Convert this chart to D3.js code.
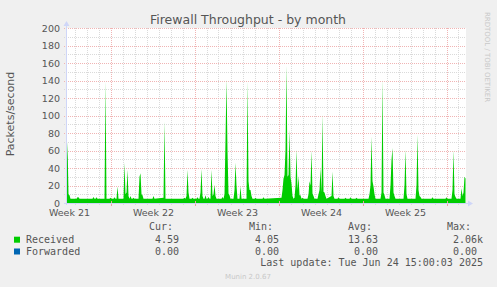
<!DOCTYPE html>
<html>
<head>
<meta charset="utf-8">
<script src="https://cdn.jsdelivr.net/npm/d3@7"></script>
<style>
  body { margin: 0; background: #f0f0f0; }
  svg { display: block; font-family: "DejaVu Sans", sans-serif; }
  .mono { font-family: "DejaVu Sans Mono", monospace; font-size: 10px; fill: #555; white-space: pre; }
</style>
</head>
<body>
<script>

var width = 497,
    height = 287;

// plot box (munin: 400px wide, 175px high)
var plotL = 66, plotR = 466, plotT = 28, plotB = 203;

var timeStart = "2025-05-22 07",
    timeEnd = "2025-06-24 15";

// Received packets/second, 2h samples ("MM-DD HH", value)
var received = [
  ["05-22 07", 30], ["05-22 09", 70], ["05-22 11", 10], ["05-22 13", 9], ["05-22 15", 5],
  ["05-23 03", 5], ["05-23 05", 6.5], ["05-23 07", 6.5], ["05-23 09", 5],
  ["05-24 11", 5], ["05-24 13", 7], ["05-24 15", 5], ["05-24 17", 5], ["05-24 19", 6.5], ["05-24 21", 5],
  ["05-25 11", 5], ["05-25 13", 139], ["05-25 15", 5], ["05-25 21", 5], ["05-25 23", 6],
  ["05-26 01", 5], ["05-26 05", 5], ["05-26 07", 6.5], ["05-26 09", 5], ["05-26 11", 5], ["05-26 13", 19], ["05-26 15", 5],
  ["05-27 01", 5], ["05-27 03", 46], ["05-27 05", 10], ["05-27 07", 12], ["05-27 09", 38], ["05-27 11", 8],
  ["05-27 13", 5], ["05-27 15", 8], ["05-27 17", 5], ["05-27 19", 5], ["05-27 21", 6], ["05-27 23", 5],
  ["05-28 07", 5], ["05-28 09", 30], ["05-28 11", 34], ["05-28 13", 10], ["05-28 15", 9], ["05-28 17", 5],
  ["05-29 11", 5], ["05-29 13", 8], ["05-29 15", 5],
  ["05-30 09", 6], ["05-30 11", 93], ["05-30 13", 5],
  ["06-01 01", 5], ["06-01 03", 6], ["06-01 05", 5], ["06-01 07", 8], ["06-01 09", 38], ["06-01 11", 12],
  ["06-01 13", 5], ["06-01 17", 5], ["06-01 19", 6], ["06-01 21", 5],
  ["06-02 03", 5], ["06-02 05", 6.5], ["06-02 07", 5], ["06-02 09", 5], ["06-02 11", 12], ["06-02 13", 39],
  ["06-02 15", 8], ["06-02 17", 5], ["06-02 19", 5], ["06-02 21", 9], ["06-02 23", 5],
  ["06-03 01", 5], ["06-03 03", 7], ["06-03 05", 5], ["06-03 07", 5], ["06-03 09", 38], ["06-03 11", 8],
  ["06-03 13", 10], ["06-03 15", 21], ["06-03 17", 8], ["06-03 19", 5],
  ["06-04 05", 5], ["06-04 07", 7], ["06-04 09", 5], ["06-04 11", 10], ["06-04 13", 72], ["06-04 15", 141],
  ["06-04 17", 60], ["06-04 19", 11], ["06-04 21", 9], ["06-04 23", 5],
  ["06-05 05", 5], ["06-05 07", 15], ["06-05 09", 46], ["06-05 11", 20], ["06-05 13", 5],
  ["06-05 17", 5], ["06-05 19", 19], ["06-05 21", 5],
  ["06-06 07", 5], ["06-06 09", 139], ["06-06 11", 25], ["06-06 13", 15], ["06-06 15", 15], ["06-06 17", 8], ["06-06 19", 5],
  ["06-06 23", 5], ["06-07 01", 6], ["06-07 03", 5],
  ["06-07 15", 5], ["06-07 17", 6.5], ["06-07 19", 5],
  ["06-09 05", 6], ["06-09 07", 15], ["06-09 09", 28], ["06-09 11", 32], ["06-09 13", 60], ["06-09 15", 157],
  ["06-09 17", 30], ["06-09 19", 32], ["06-09 21", 84], ["06-09 23", 30],
  ["06-10 01", 22], ["06-10 03", 8], ["06-10 05", 5], ["06-10 07", 6], ["06-10 09", 20], ["06-10 11", 61],
  ["06-10 13", 15], ["06-10 15", 31], ["06-10 17", 9], ["06-10 19", 9], ["06-10 21", 5], ["06-10 23", 6],
  ["06-11 01", 5], ["06-11 09", 5], ["06-11 11", 10], ["06-11 13", 25], ["06-11 15", 20], ["06-11 17", 60],
  ["06-11 19", 11], ["06-11 21", 8], ["06-11 23", 5],
  ["06-12 05", 5], ["06-12 07", 10], ["06-12 09", 15], ["06-12 11", 40], ["06-12 13", 12], ["06-12 15", 101],
  ["06-12 17", 13], ["06-12 19", 12], ["06-12 21", 8], ["06-12 23", 5],
  ["06-13 09", 8], ["06-13 11", 36], ["06-13 13", 8], ["06-13 15", 5], ["06-13 21", 5], ["06-13 23", 6.5],
  ["06-14 01", 5], ["06-14 11", 5], ["06-14 13", 6], ["06-14 15", 5], ["06-14 21", 5], ["06-14 23", 6.5],
  ["06-15 01", 5], ["06-15 09", 5], ["06-15 11", 6], ["06-15 13", 5],
  ["06-16 11", 5], ["06-16 13", 10], ["06-16 15", 20], ["06-16 17", 76], ["06-16 19", 25], ["06-16 21", 19], ["06-16 23", 10],
  ["06-17 01", 5], ["06-17 11", 5], ["06-17 13", 12], ["06-17 15", 141], ["06-17 17", 12], ["06-17 19", 9], ["06-17 21", 5],
  ["06-18 05", 5], ["06-18 07", 20], ["06-18 09", 49], ["06-18 11", 63], ["06-18 13", 12], ["06-18 15", 8], ["06-18 17", 5],
  ["06-19 09", 5], ["06-19 11", 20], ["06-19 13", 61], ["06-19 15", 10], ["06-19 17", 5],
  ["06-20 09", 5], ["06-20 11", 20], ["06-20 13", 78], ["06-20 15", 15], ["06-20 17", 8], ["06-20 19", 7], ["06-20 21", 5],
  ["06-21 17", 5], ["06-21 19", 6.5], ["06-21 21", 5],
  ["06-22 21", 5], ["06-22 23", 6.5], ["06-23 01", 5],
  ["06-23 09", 5], ["06-23 11", 15], ["06-23 13", 60], ["06-23 15", 10], ["06-23 17", 7], ["06-23 19", 5],
  ["06-24 03", 5], ["06-24 05", 17], ["06-24 07", 8], ["06-24 09", 12], ["06-24 11", 30], ["06-24 13", 28]
];

var yTicks = [0, 20, 40, 60, 80, 100, 120, 140, 160, 180, 200];
var yMinor = [10, 30, 50, 70, 90, 110, 130, 150, 170, 190];

var weekLabels = ["Week 21", "Week 22", "Week 23", "Week 24", "Week 25"];
var weekMids = ["05-22 12", "05-29 12", "06-05 12", "06-12 12", "06-19 12"];

var legendNames = ["Received", "Forwarded"];
var legendColors = ["#00cc00", "#0066b3"];
var curVals = ["4.59", "0.00"];
var minVals = ["4.05", "0.00"];
var avgVals = ["13.63", "0.00"];
var maxVals = ["2.06k", "0.00 "];

var parse = d3.utcParse("%Y-%m-%d %H");
function t(s) { return parse(s.length > 8 ? s : "2025-" + s); }

// samples sit on pixel centres, like rrdtool
var x = d3.scaleUtc()
    .domain([t(timeStart), t(timeEnd)])
    .range([plotL + 0.5, plotR + 0.5]);

var y = d3.scaleLinear()
    .domain([0, 200])
    .range([plotB, plotT]);

var svg = d3.select("body").append("svg")
    .attr("width", width)
    .attr("height", height);

svg.append("rect")
    .attr("width", width).attr("height", height)
    .attr("fill", "#f0f0f0");

svg.append("rect")
    .attr("x", plotL).attr("y", plotT)
    .attr("width", plotR - plotL).attr("height", plotB - plotT)
    .attr("fill", "#ffffff");

function px(v) { return Math.floor(v) + 0.5; }
function py(v) { return Math.round(v) + 0.5; }

var days = d3.utcDay.range(t(timeStart), t(timeEnd));
var mondays = d3.utcMonday.range(t(timeStart), t(timeEnd));

var minorColor = "#dadada",
    majorColor = "#f0b4b4";

var grid = svg.append("g")
    .attr("stroke-width", 1)
    .attr("stroke-dasharray", "1,1")
    .attr("fill", "none");

grid.selectAll(".hmin")
    .data(yMinor)
  .enter().append("line")
    .attr("x1", plotL - 2).attr("x2", plotR)
    .attr("y1", function(d) { return py(y(d)); })
    .attr("y2", function(d) { return py(y(d)); })
    .attr("stroke", minorColor);

grid.selectAll(".vmin")
    .data(days)
  .enter().append("line")
    .attr("y1", plotT).attr("y2", plotB + 2)
    .attr("x1", function(d) { return px(x(d)); })
    .attr("x2", function(d) { return px(x(d)); })
    .attr("stroke", minorColor);

grid.selectAll(".hmaj")
    .data(yTicks.slice(1))
  .enter().append("line")
    .attr("x1", plotL - 2).attr("x2", plotR)
    .attr("y1", function(d) { return py(y(d)); })
    .attr("y2", function(d) { return py(y(d)); })
    .attr("stroke", majorColor);

grid.selectAll(".vmaj")
    .data(mondays)
  .enter().append("line")
    .attr("y1", plotT).attr("y2", plotB + 2)
    .attr("x1", function(d) { return px(x(d)); })
    .attr("x2", function(d) { return px(x(d)); })
    .attr("stroke", majorColor);

// received area
var area = d3.area()
    .x(function(d) { return x(t(d[0])); })
    .y0(y(0))
    .y1(function(d) { return y(d[1]); });

svg.append("clipPath").attr("id", "clip")
  .append("rect")
    .attr("x", plotL).attr("y", plotT)
    .attr("width", plotR - plotL).attr("height", plotB - plotT);

svg.append("path")
    .datum(received)
    .attr("clip-path", "url(#clip)")
    .attr("fill", "#00cc00")
    .attr("d", area);

// major ticks over the data
svg.selectAll(".xtick")
    .data(mondays)
  .enter().append("line")
    .attr("x1", function(d) { return px(x(d)); })
    .attr("x2", function(d) { return px(x(d)); })
    .attr("y1", plotB - 2).attr("y2", plotB + 3)
    .attr("stroke", "#eaa0a0");

// axes lines + arrows
var axisColor = "#cfd6f8";
svg.append("line")
    .attr("x1", plotL + 0.5).attr("x2", plotL + 0.5)
    .attr("y1", plotT - 4).attr("y2", plotB + 2)
    .attr("stroke", axisColor);
svg.append("line")
    .attr("x1", plotL - 2).attr("x2", plotR + 4)
    .attr("y1", plotB + 0.5).attr("y2", plotB + 0.5)
    .attr("stroke", axisColor);
svg.append("path")
    .attr("d", "M" + (plotL - 2.5) + "," + (plotT - 2) + "L" + (plotL + 0.5) + "," + (plotT - 7) + "L" + (plotL + 3.5) + "," + (plotT - 2) + "Z")
    .attr("fill", axisColor);
svg.append("path")
    .attr("d", "M" + (plotR + 2) + "," + (plotB - 2.5) + "L" + (plotR + 7) + "," + (plotB + 0.5) + "L" + (plotR + 2) + "," + (plotB + 3.5) + "Z")
    .attr("fill", axisColor);

// y axis labels
var yAxis = svg.append("g")
    .attr("transform", "translate(" + (plotL - 5) + ",0)")
    .call(d3.axisLeft(y).tickValues(yTicks).tickSize(0).tickPadding(1));
yAxis.select(".domain").remove();
yAxis.selectAll("text")
    .attr("font-family", "DejaVu Sans")
    .attr("font-size", "9.5px")
    .attr("fill", "#555");

// week labels
var xAxis = svg.append("g")
    .attr("transform", "translate(0," + (plotB + 4) + ")")
    .call(d3.axisBottom(x)
        .tickValues(weekMids.map(t))
        .tickFormat(function(d, i) { return weekLabels[i]; })
        .tickSize(0).tickPadding(2));
xAxis.select(".domain").remove();
xAxis.selectAll("text")
    .attr("font-family", "DejaVu Sans")
    .attr("font-size", "9.5px")
    .attr("fill", "#555");

// titles
svg.append("text")
    .attr("x", 248).attr("y", 23.5)
    .attr("text-anchor", "middle")
    .attr("font-size", "12.5px")
    .attr("fill", "#555")
    .text("Firewall Throughput - by month");

svg.append("text")
    .attr("transform", "translate(14,114) rotate(-90)")
    .attr("text-anchor", "middle")
    .attr("font-size", "11px")
    .attr("fill", "#555")
    .text("Packets/second");

svg.append("text")
    .attr("transform", "translate(485,57) rotate(90)")
    .attr("text-anchor", "middle")
    .attr("font-size", "7px")
    .attr("fill", "#c8c8c8")
    .text("RRDTOOL / TOBI OETIKER");

// legend
var heads = [["Cur:", 149], ["Min:", 249], ["Avg:", 348], ["Max:", 447]];
svg.selectAll(".head")
    .data(heads)
  .enter().append("text")
    .attr("class", "mono")
    .attr("x", function(d) { return d[1]; })
    .attr("y", 230)
    .text(function(d) { return d[0]; });

var rows = svg.selectAll(".row")
    .data(legendNames)
  .enter().append("g")
    .attr("transform", function(d, i) { return "translate(0," + (242.7 + i * 11.8) + ")"; });

rows.append("rect")
    .attr("x", 14).attr("y", -6)
    .attr("width", 6).attr("height", 6)
    .attr("fill", function(d, i) { return legendColors[i]; });

rows.append("text")
    .attr("class", "mono")
    .attr("x", 26)
    .text(function(d) { return d; });

var cols = [[curVals, 179], [minVals, 279], [avgVals, 378], [maxVals, 483]];
cols.forEach(function(c) {
  rows.append("text")
      .attr("class", "mono")
      .attr("x", c[1])
      .attr("text-anchor", "end")
      .text(function(d, i) { return c[0][i]; });
});

svg.append("text")
    .attr("class", "mono")
    .attr("x", 483).attr("y", 266.3)
    .attr("text-anchor", "end")
    .text("Last update: Tue Jun 24 15:00:03 2025");

svg.append("text")
    .attr("x", 248).attr("y", 279)
    .attr("text-anchor", "middle")
    .attr("font-size", "7px")
    .attr("fill", "#c8c8c8")
    .text("Munin 2.0.67");

</script>
</body>
</html>
